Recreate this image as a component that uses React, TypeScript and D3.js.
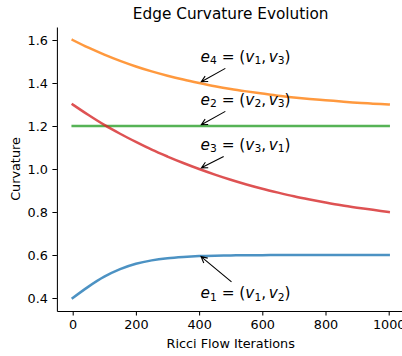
import React, { useEffect, useRef } from 'react';
import * as d3 from 'd3';

// iterations sampled every 50 steps
const iterations = [0, 50, 100, 150, 200, 250, 300, 350, 400, 450, 500, 550, 600, 650, 700, 750, 800, 850, 900, 950, 1000];

// e1 = (v1, v2)
const e1Values = [0.4, 0.453, 0.499, 0.534, 0.559, 0.575, 0.585, 0.591, 0.595, 0.597, 0.598, 0.599, 0.599, 0.6, 0.6, 0.6, 0.6, 0.6, 0.6, 0.6, 0.6];
// e2 = (v2, v3)
const e2Values = [1.2, 1.2, 1.2, 1.2, 1.2, 1.2, 1.2, 1.2, 1.2, 1.2, 1.2, 1.2, 1.2, 1.2, 1.2, 1.2, 1.2, 1.2, 1.2, 1.2, 1.2];
// e3 = (v3, v1)
const e3Values = [1.3, 1.251, 1.205, 1.164, 1.126, 1.09, 1.058, 1.028, 1.0, 0.974, 0.95, 0.928, 0.908, 0.89, 0.873, 0.858, 0.844, 0.831, 0.82, 0.81, 0.8];
// e4 = (v1, v3)
const e4Values = [1.6, 1.564, 1.532, 1.503, 1.477, 1.454, 1.434, 1.416, 1.4, 1.385, 1.372, 1.361, 1.351, 1.341, 1.333, 1.326, 1.32, 1.314, 1.308, 1.304, 1.3];

const seriesColors = ['#1f77b4', '#2ca02c', '#d62728', '#ff7f0e'];

const xTicks = [0, 200, 400, 600, 800, 1000];
const yTicks = [0.4, 0.6, 0.8, 1.0, 1.2, 1.4, 1.6];

// annotation: edge name, vertices, arrow target, text position (data coords)
const annoEdges = ['1', '2', '3', '4'];
const annoVerts = [['1', '2'], ['2', '3'], ['3', '1'], ['1', '3']];
const annoPoints = [[400, 0.6], [400, 1.2], [400, 1.0], [400, 1.4]];
const annoTexts = [[400, 0.4], [400, 1.3], [400, 1.09], [400, 1.5]];

const FONT = 'DejaVu Sans, sans-serif';

export default function App() {
  const svgRef = useRef<SVGSVGElement>(null);
  const width = 402;
  const height = 356;

  useEffect(() => {
    const svg = d3.select(svgRef.current);
    svg.selectAll('*').remove();

    const margin = { top: 27.1, left: 56.9, bottom: 45.1 };
    const plotRight = 404.5;

    const x = d3.scaleLinear().domain([-50, 1050]).range([margin.left, plotRight]);
    const y = d3.scaleLinear().domain([0.34, 1.66]).range([height - margin.bottom, margin.top]);

    svg.append('rect').attr('width', width).attr('height', height).attr('fill', '#fff');

    // lines
    const allSeries = [e1Values, e2Values, e3Values, e4Values];
    const line = d3.line<number>()
      .x((d, i) => x(iterations[i]))
      .y(d => y(d))
      .curve(d3.curveMonotoneX);

    allSeries.forEach((vals, i) => {
      svg.append('path')
        .datum(vals)
        .attr('d', line)
        .attr('fill', 'none')
        .attr('stroke', seriesColors[i])
        .attr('stroke-opacity', 0.8)
        .attr('stroke-width', 2.5)
        .attr('stroke-linecap', 'square');
    });

    // axes
    const xAxis = d3.axisBottom(x)
      .tickValues(xTicks)
      .tickSize(4.5)
      .tickSizeOuter(0)
      .tickPadding(4.5)
      .tickFormat(d3.format('d') as any);

    const yAxis = d3.axisLeft(y)
      .tickValues(yTicks)
      .tickSize(4.5)
      .tickSizeOuter(0)
      .tickPadding(4.5)
      .tickFormat(d3.format('.1f') as any);

    const gx = svg.append('g')
      .attr('transform', `translate(0,${height - margin.bottom})`)
      .call(xAxis);
    const gy = svg.append('g')
      .attr('transform', `translate(${margin.left},0)`)
      .call(yAxis);

    [gx, gy].forEach(g => {
      g.selectAll('path.domain').attr('stroke', '#000').attr('stroke-width', 1.05);
      g.selectAll('.tick line').attr('stroke', '#000').attr('stroke-width', 1.05);
      g.selectAll('text')
        .attr('fill', '#000')
        .style('font-family', FONT)
        .style('font-size', '12.8px');
    });
    gy.selectAll('text').attr('dy', '0.36em');

    // title and axis labels
    const cx = (margin.left + plotRight) / 2;
    svg.append('text')
      .attr('x', cx)
      .attr('y', 19.4)
      .attr('text-anchor', 'middle')
      .style('font-family', FONT)
      .style('font-size', '15.3px')
      .text('Edge Curvature Evolution');

    svg.append('text')
      .attr('x', cx)
      .attr('y', 348)
      .attr('text-anchor', 'middle')
      .style('font-family', FONT)
      .style('font-size', '12.8px')
      .text('Ricci Flow Iterations');

    svg.append('text')
      .attr('transform', `translate(20.3,${(margin.top + height - margin.bottom) / 2}) rotate(-90)`)
      .attr('text-anchor', 'middle')
      .style('font-family', FONT)
      .style('font-size', '12.8px')
      .text('Curvature');

    // annotations
    const fs = 15.3;
    const sub = 2.6;
    annoEdges.forEach((edge, i) => {
      const tx = x(annoTexts[i][0]) + 1.5;
      const ty = y(annoTexts[i][1]);
      const t = svg.append('text')
        .attr('x', tx)
        .attr('y', ty)
        .style('font-family', FONT)
        .style('font-size', `${fs}px`)
        .style('white-space', 'pre');

      const parts = [
        { s: 'e', it: true },
        { s: edge, sub: true },
        { s: ' = (' },
        { s: 'v', it: true },
        { s: annoVerts[i][0], sub: true },
        { s: ',' },
        { s: 'v', it: true, dx: 2.6 },
        { s: annoVerts[i][1], sub: true },
        { s: ')' },
      ];
      let shifted = false;
      parts.forEach((p: any) => {
        const ts = t.append('tspan').text(p.s);
        if (p.it) ts.style('font-style', 'italic');
        let dy = 0;
        if (p.sub && !shifted) { dy = sub; shifted = true; }
        else if (!p.sub && shifted) { dy = -sub; shifted = false; }
        if (dy) ts.attr('dy', dy);
        if (p.sub) ts.style('font-size', `${fs * 0.7}px`);
        if (p.dx) ts.attr('dx', p.dx);
      });

      const bb = (t.node() as SVGTextElement).getBBox();
      const pad = 2.55;
      const x0 = bb.x - pad;
      const x1 = bb.x + bb.width + pad;
      const y0 = ty - 0.78 * fs - pad;
      const y1 = ty + 0.2 * fs + pad;
      const bcx = (x0 + x1) / 2;
      const bcy = (y0 + y1) / 2;
      const px = x(annoPoints[i][0]);
      const py = y(annoPoints[i][1]);
      const ddx = px - bcx;
      const ddy = py - bcy;
      const kx = ddx !== 0 ? ((ddx > 0 ? x1 : x0) - bcx) / ddx : Infinity;
      const ky = ddy !== 0 ? ((ddy > 0 ? y1 : y0) - bcy) / ddy : Infinity;
      const k = Math.min(kx, ky);
      let sx = bcx + ddx * k;
      let sy = bcy + ddy * k;
      const len = Math.hypot(px - sx, py - sy);
      const ux = (px - sx) / len;
      const uy = (py - sy) / len;
      const shrink = 2.56;
      sx += ux * shrink;
      sy += uy * shrink;
      const ex = px - ux * shrink;
      const ey = py - uy * shrink;
      const hl = 6.1;
      const hw = 3.1;
      const bx = ex - ux * hl;
      const by = ey - uy * hl;
      const path = d3.path();
      path.moveTo(sx, sy);
      path.lineTo(ex, ey);
      path.moveTo(bx - uy * hw, by + ux * hw);
      path.lineTo(ex, ey);
      path.lineTo(bx + uy * hw, by - ux * hw);
      svg.append('path')
        .attr('d', path.toString())
        .attr('fill', 'none')
        .attr('stroke', '#000')
        .attr('stroke-width', 1.1);
    });
  }, []);

  return (
    <div style={{ width, height }}>
      <svg
        ref={svgRef}
        width={width}
        height={height}
        style={{ position: 'absolute', left: 0, top: 0 }}
      />
    </div>
  );
}
